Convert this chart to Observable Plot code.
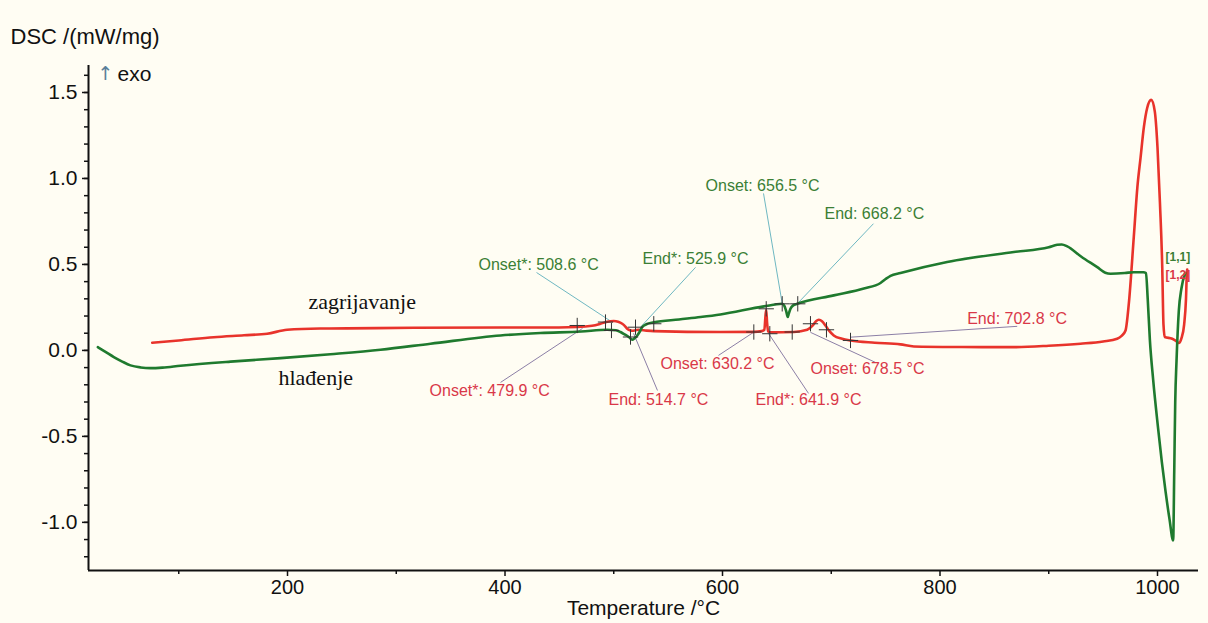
<!DOCTYPE html>
<html>
<head>
<meta charset="utf-8">
<script src="https://cdn.jsdelivr.net/npm/d3@7"></script>
<script src="https://cdn.jsdelivr.net/npm/@observablehq/plot@0.6"></script>
<style>
  html, body { margin: 0; padding: 0; background: #fffdf3; }
  #chart { width: 1208px; height: 623px; }
</style>
</head>
<body>
<div id="chart"></div>
<script>
// Heating curve (zagrijavanje) - temperature (°C) and DSC (mW/mg)
const heatT = [75.6,100,132.2,160,181.3,199.7,230,254.9,315.9,395.9,432.6,466.4,480,487.8,494,500,504,507.8,510.5,512.4,515,517,520,523,530,536.8,598,628.8,636,638.5,639.5,640.2,641,642,644.1,665.6,677.9,683,686,688.6,691.5,694.7,698,702.3,710,717.9,740,763.7,776,820,867.9,900,929.2,950,962.9,967,970.6,973.6,978.2,981.5,984.4,987.5,990.5,994.2,997.5,1000,1002.3,1004.3,1005.5,1006.7,1013.5,1017,1019.6,1022,1024.5,1026.2,1027,1027.3];
const heatV = [0.045,0.058,0.077,0.088,0.097,0.12,0.127,0.128,0.132,0.133,0.133,0.136,0.143,0.155,0.167,0.171,0.167,0.155,0.14,0.126,0.117,0.114,0.117,0.12,0.115,0.112,0.107,0.108,0.112,0.12,0.2,0.235,0.16,0.11,0.105,0.107,0.12,0.145,0.17,0.178,0.17,0.145,0.115,0.087,0.068,0.058,0.045,0.035,0.023,0.02,0.019,0.027,0.039,0.052,0.068,0.085,0.116,0.27,0.66,0.95,1.12,1.3,1.41,1.457,1.39,1.18,0.85,0.5,0.15,0.078,0.068,0.055,0.043,0.07,0.15,0.3,0.45,0.47];

// Cooling curve (hlađenje)
const coolT = [25.6,33,40.3,48,55.6,65,74,85,101.6,147.6,193.6,239.5,285.5,331.5,395.9,432.6,470,494,502,506.2,510,513.8,517,519,521.6,524,526.2,530,536.8,560,579.8,598,638,654.9,657,658.5,660,661,662.5,665,668.7,702.3,730,745.3,750,754.5,763.7,806.6,867.9,900,907.8,912,917,930,944.6,952,956.8,970,978.2,987,989.4,991,993,996,1000.5,1004,1007.4,1011,1014.4,1015.4,1016.3,1017.5,1019.6,1022,1025.5];
const coolV = [0.019,-0.01,-0.039,-0.065,-0.087,-0.099,-0.103,-0.1,-0.089,-0.065,-0.045,-0.022,0.004,0.039,0.087,0.101,0.11,0.12,0.117,0.107,0.093,0.078,0.062,0.07,0.087,0.11,0.136,0.152,0.163,0.18,0.194,0.209,0.256,0.271,0.258,0.23,0.194,0.215,0.242,0.262,0.271,0.32,0.36,0.392,0.415,0.434,0.45,0.514,0.572,0.6,0.614,0.616,0.605,0.545,0.484,0.452,0.446,0.45,0.455,0.455,0.45,0.3,0.06,-0.17,-0.45,-0.65,-0.82,-0.98,-1.105,-0.7,-0.3,-0.06,0.23,0.36,0.45];

// Axis ticks
const xTicks = [200,400,600,800,1000];
const xMinorTicks = [100,300,500,700,900];
const yTicks = [-1.0,-0.5,0.0,0.5,1.0,1.5];
const yMinorTicks = d3.range(-12,17).map(d => d/10);

// Annotation labels (series: "cool" = green, "heat" = red), label anchor position in data space
const annText = ["Onset*: 508.6 °C","End*: 525.9 °C","Onset: 656.5 °C","End: 668.2 °C","Onset*: 479.9 °C","End: 514.7 °C","Onset: 630.2 °C","End*: 641.9 °C","Onset: 678.5 °C","End: 702.8 °C"];
const annSeries = ["cool","cool","cool","cool","heat","heat","heat","heat","heat","heat"];
const annT = [375.6,526.4,584.4,693.8,330.6,495.2,543,630.3,680.9,825];
const annV = [0.5,0.535,0.959,0.795,-0.233,-0.285,-0.076,-0.29,-0.105,0.184];
// Leader lines from label to curve
const leadT1 = [429,575.2,637.7,738.8,395.9,540.2,596.3,679.1,740.7,871];
const leadV1 = [0.453,0.483,0.913,0.737,-0.186,-0.233,-0.029,-0.25,-0.07,0.14];
const leadT2 = [498.9,524.6,654.9,670.2,471.3,518.2,628.5,642.3,680.9,717.7];
const leadV2 = [0.163,0.135,0.273,0.281,0.128,0.099,0.105,0.099,0.105,0.077];
// Onset/End tangent markers
const markT = [466.4,492.4,497.9,515.4,520,536.8,628.8,640.2,643.5,654.9,669.2,664.1,680.9,695.6,717.7];
const markV = [0.145,0.165,0.116,0.078,0.135,0.155,0.107,0.242,0.097,0.271,0.271,0.107,0.155,0.12,0.058];

// Curve names and segment tags
const curveNames = ["zagrijavanje","hlađenje"];
const curveNameT = [219.3,191.7];
const curveNameV = [0.28,-0.163];
const segTags = ["[1,1]","[1,2]"];
const segTagSeries = ["cool","heat"];
const segTagT = [1007.4,1007.4];
const segTagV = [0.54,0.436];

const heat = heatT.map((t,i) => ({t, v: heatV[i]}));
const cool = coolT.map((t,i) => ({t, v: coolV[i]}));
const ann = annText.map((s,i) => ({s, series: annSeries[i], t: annT[i], v: annV[i], t1: leadT1[i], v1: leadV1[i], t2: leadT2[i], v2: leadV2[i]}));
const marks = markT.map((t,i) => ({t, v: markV[i]}));

const GREEN = "#1f7a2e", RED = "#e8332b";
const textColor = {cool: "#3b7f35", heat: "#d93848"};
const leadColor = {cool: "#6fb8c2", heat: "#8c7fa6"};

const xDom = [17, 1037.7], yDom = [-1.28, 1.657];

const chart = Plot.plot({
  width: 1208, height: 623,
  marginLeft: 88, marginRight: 10, marginTop: 65, marginBottom: 53,
  style: {background: "#fffdf3", fontFamily: "'Liberation Sans', Arial, sans-serif", fontSize: "21px", color: "#111"},
  x: {domain: xDom},
  y: {domain: yDom},
  marks: [
    // minor ticks
    Plot.axisY({ticks: yMinorTicks, tickFormat: () => "", tickSize: 4, stroke: "#111", strokeWidth: 1.5, label: null}),
    Plot.axisX({ticks: xMinorTicks, tickFormat: () => "", tickSize: 4, stroke: "#111", strokeWidth: 1.5, label: null}),
    // major ticks
    Plot.axisY({ticks: yTicks, tickFormat: d => d.toFixed(1), tickSize: 6, tickPadding: 5, stroke: "#111", strokeWidth: 1.5, fontSize: 21, label: null}),
    Plot.axisX({ticks: xTicks, tickFormat: d => String(d), tickSize: 6, tickPadding: 3, stroke: "#111", strokeWidth: 1.5, fontSize: 20, label: null}),
    // axis lines
    Plot.ruleX([xDom[0]], {stroke: "#111", strokeWidth: 2}),
    Plot.ruleY([yDom[0]], {stroke: "#111", strokeWidth: 2}),
    // leader lines
    Plot.link(ann, {x1: "t1", y1: "v1", x2: "t2", y2: "v2", stroke: d => leadColor[d.series], strokeWidth: 1}),
    // curves
    Plot.line(heat, {x: "t", y: "v", stroke: RED, strokeWidth: 2.6, curve: "monotone-x"}),
    Plot.line(cool, {x: "t", y: "v", stroke: GREEN, strokeWidth: 2.6, curve: "monotone-x"}),
    // markers
    Plot.dot(marks, {x: "t", y: "v", symbol: "plus", r: 5, stroke: "#333", strokeWidth: 1}),
    // annotation labels
    Plot.text(ann, {x: "t", y: "v", text: "s", fill: d => textColor[d.series], textAnchor: "start", fontSize: 16}),
    Plot.text(segTags, {x: (d,i) => segTagT[i], y: (d,i) => segTagV[i], text: d => d, fill: (d,i) => textColor[segTagSeries[i]], textAnchor: "start", fontSize: 12, fontWeight: "bold"}),
    // curve names
    Plot.text(curveNames, {x: (d,i) => curveNameT[i], y: (d,i) => curveNameV[i], text: d => d, textAnchor: "start", fontFamily: "'Liberation Serif', 'Times New Roman', serif", fontSize: 22, fill: "#111"}),
    // axis titles
    Plot.text(["DSC /(mW/mg)"], {frameAnchor: "top-left", dx: -78, dy: -37, textAnchor: "start", fontSize: 22, fill: "#111"}),
    Plot.text(["↑"], {frameAnchor: "top-left", dx: 9, dy: 1, textAnchor: "start", fontFamily: "'DejaVu Sans', sans-serif", fontSize: 19, fill: "#5a7f99"}),
    Plot.text(["exo"], {frameAnchor: "top-left", dx: 29, dy: 1, textAnchor: "start", fontSize: 21, fill: "#111"}),
    Plot.text(["Temperature /°C"], {frameAnchor: "bottom", dy: 44, fontSize: 21, fill: "#111"})
  ]
});
document.getElementById("chart").appendChild(chart);
</script>
</body>
</html>
